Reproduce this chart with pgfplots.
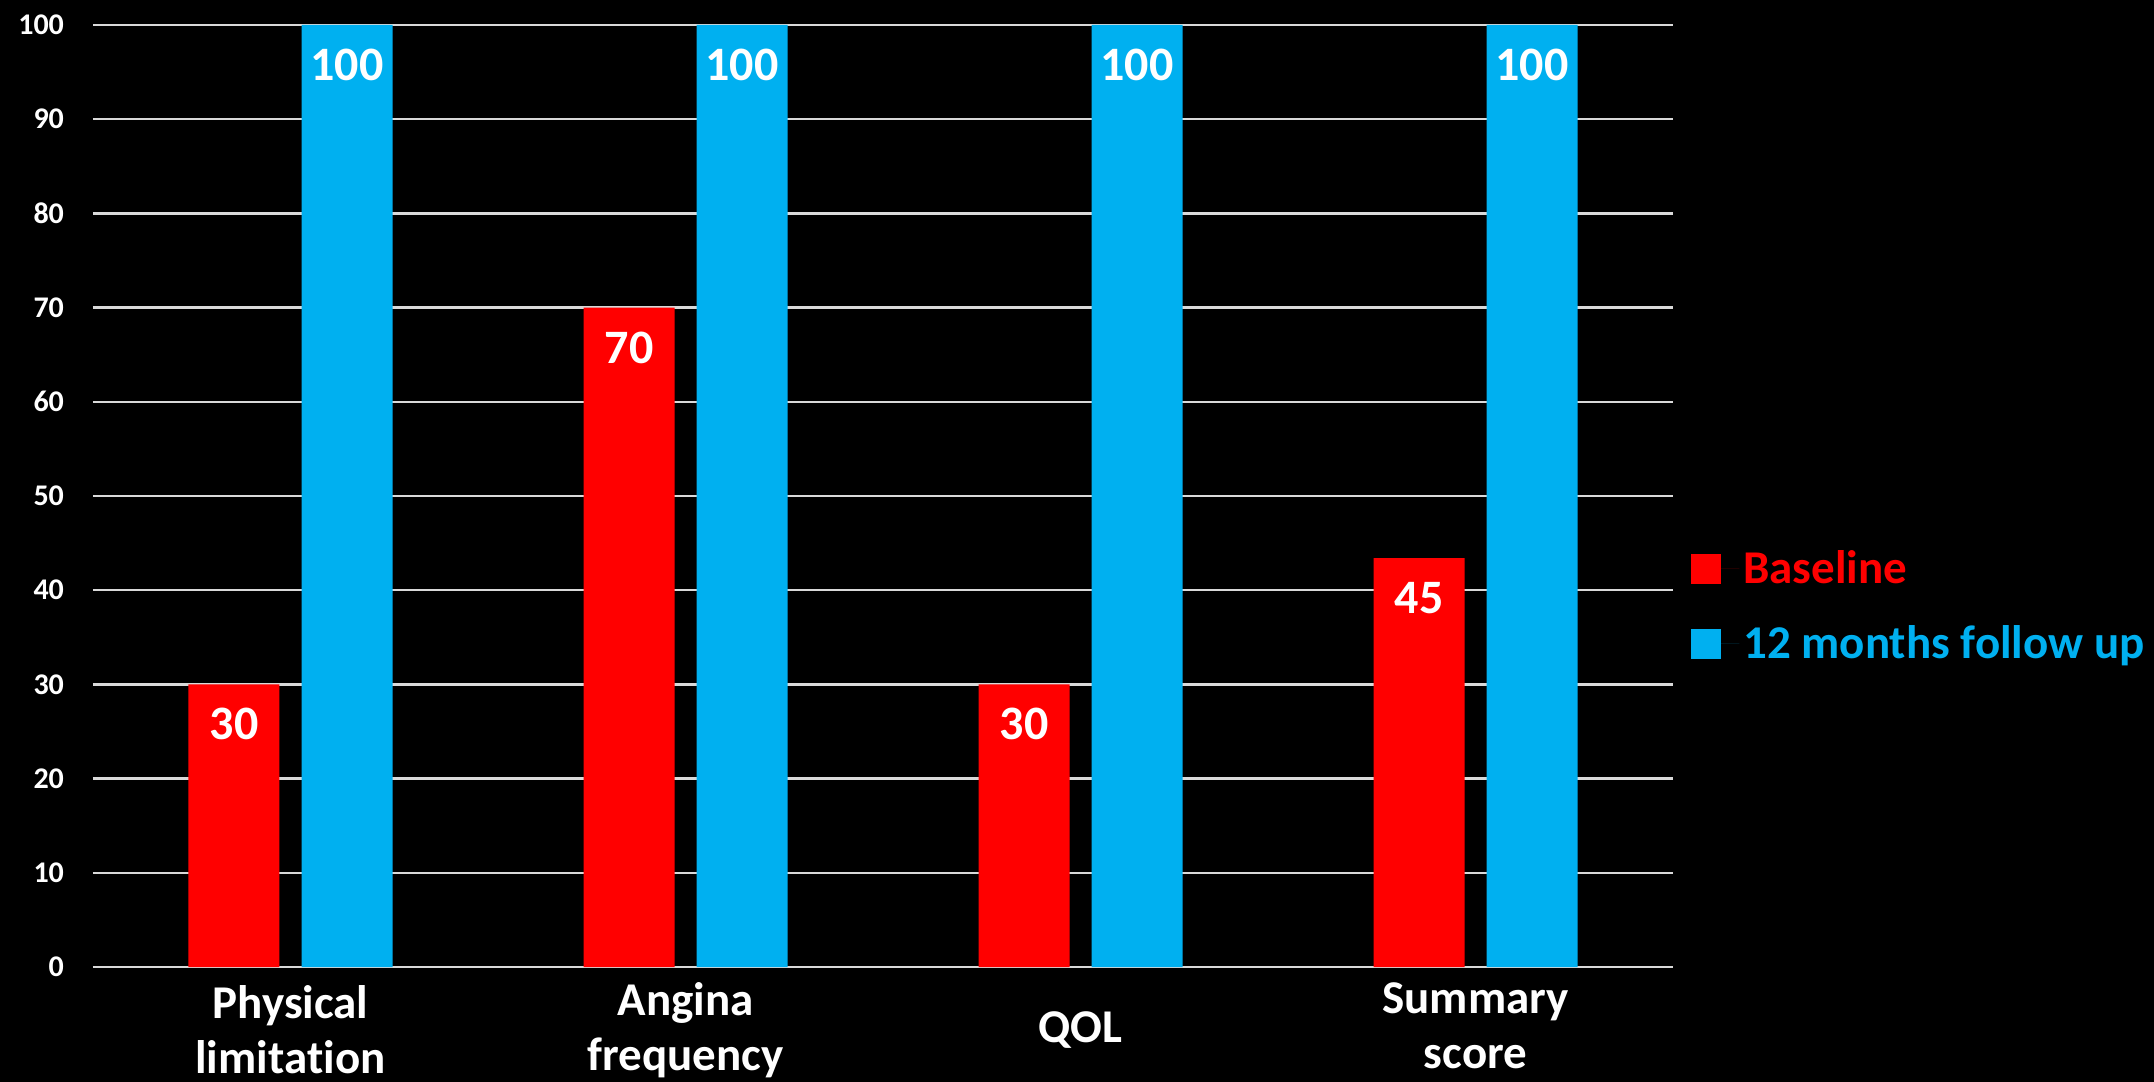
\documentclass[border=0pt]{standalone}
\usepackage{pgfplots}
\pgfplotsset{compat=1.18}
\usepackage{pgfplotstable}
\usepackage{fontspec}
\setmainfont{Carlito}[Ligatures={NoCommon}]
\definecolor{cred}{HTML}{FF0000}
\definecolor{cblue}{HTML}{00B0F0}
\definecolor{gridc}{HTML}{D9D9D9}

\pgfplotstableread{
x y lab
0 30 30
1 70 70
2 30 30
3 43.4 45
}\baseline
\pgfplotstableread{
x y lab
0 100 100
1 100 100
2 100 100
3 100 100
}\followup

\begin{document}
\begin{tikzpicture}
\fill[black] (-46.5pt,-57.5pt) rectangle (1030.5pt,483.5pt);
\useasboundingbox (-46.5pt,-57.5pt) rectangle (1030.5pt,483.5pt);
\begin{axis}[
  at={(0,0)}, anchor=south west,
  scale only axis, width=790pt, height=471pt,
  xmin=-0.5, xmax=3.5, ymin=0, ymax=100,
  axis line style={draw=none},
  major tick length=0pt,
  ytick={0,10,...,100},
  xtick={0,1,2,3},
  xticklabels={{Physical\\limita\kern0pt tion},{Angina\\frequency},{QOL},{\raisebox{3pt}{\begin{tabular}{@{}c@{}}Summary\\score\end{tabular}}}},
  ymajorgrids,
  grid style={line width=1.2pt, gridc},
  /pgf/number format/assume math mode=true,
  yticklabel style={font=\fontsize{15}{18}\selectfont\bfseries, text=white, anchor=east, xshift=-11pt},
  xticklabel style={font=\fontsize{23.5}{27.5}\selectfont\bfseries, text=white, align=center, anchor=center, yshift=-31.5pt},
  nodes near coords,
  point meta=explicit symbolic,
  every node near coord/.append style={font=\fontsize{24}{28}\selectfont\bfseries, text=white, anchor=center, yshift=-20pt},
  legend image code/.code={\fill[#1] (0pt,-7.5pt) rectangle (15pt,7.5pt); \path (0pt,0pt) -- (24pt,0pt);},
  legend style={draw=none, fill=none, at={(1,0.383)}, anchor=west, xshift=9pt, inner sep=0pt,
    font=\fontsize{23.5}{28}\selectfont\bfseries, row sep=15.5pt},
  legend cell align=left,
]
\addplot[ybar, bar width=45.5pt, bar shift=-28.25pt, fill=cred, draw=none,
  every node near coord/.append style={xshift=-28.25pt}] table[x=x, y=y, meta=lab] {\baseline};
\addlegendentry{\textcolor{cred}{Baseline}}
\addplot[ybar, bar width=45.5pt, bar shift=28.25pt, fill=cblue, draw=none,
  every node near coord/.append style={xshift=28.25pt}] table[x=x, y=y, meta=lab] {\followup};
\addlegendentry{\textcolor{cblue}{12 months follow up}}
\end{axis}
\end{tikzpicture}
\end{document}
